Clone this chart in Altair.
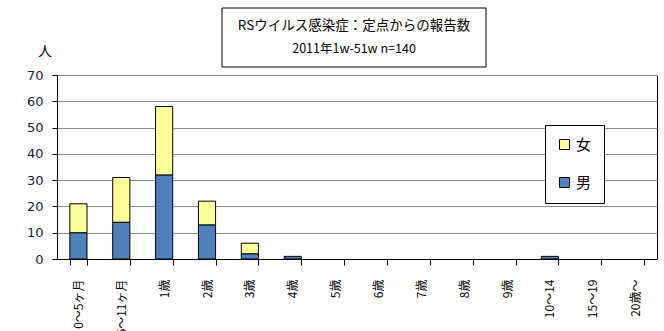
import altair as alt
import pandas as pd

categories = ["0～5ヶ月", "6～11ヶ月", "1歳", "2歳", "3歳", "4歳", "5歳", "6歳",
              "7歳", "8歳", "9歳", "10～14", "15～19", "20歳～"]
male = [10, 14, 32, 13, 2, 1, 0, 0, 0, 0, 0, 1, 0, 0]
female = [11, 17, 26, 9, 4, 0, 0, 0, 0, 0, 0, 0, 0, 0]
y_ticks = [0, 10, 20, 30, 40, 50, 60, 70]
title1 = "RSウイルス感染症：定点からの報告数"
title2 = "2011年1w-51w n=140"
unit = "人"

rows = []
for c, m, f in zip(categories, male, female):
    rows.append({"cat": c, "sex": "男", "n": m, "ord": 0})
    rows.append({"cat": c, "sex": "女", "n": f, "ord": 1})
df = pd.DataFrame(rows)
df = df[df["n"] > 0]

FONT = "Noto Sans CJK JP"

bars = alt.Chart(df).mark_bar(stroke="black", strokeWidth=1).encode(
    x=alt.X("cat:N", title=None,
            scale=alt.Scale(domain=categories, paddingInner=0.6, paddingOuter=0.3),
            axis=alt.Axis(labelAngle=270, labelAlign="right", labelBaseline="middle",
                          tickBand="extent", tickSize=6, tickColor="black", tickWidth=1,
                          domainColor="black", labelPadding=14, labelFontSize=12,
                          labelColor="black", labelFont=FONT, grid=False)),
    y=alt.Y("n:Q", stack="zero", title=None,
            scale=alt.Scale(domain=[0, 70]),
            axis=alt.Axis(values=y_ticks, tickSize=5, tickColor="black",
                          domainColor="black", labelPadding=9, labelFontSize=13,
                          labelColor="#1a1a3a", labelFont="DejaVu Sans", grid=True,
                          gridColor="#8c8c8c", gridWidth=1)),
    color=alt.Color("sex:N", scale=alt.Scale(domain=["女", "男"], range=["#FFFF99", "#4F81BD"]),
                    legend=alt.Legend(title=None, orient="none", legendX=488, legendY=50,
                                      padding=12, strokeColor="black", fillColor="white",
                                      symbolType="square", symbolSize=100,
                                      symbolStrokeColor="black", symbolStrokeWidth=1,
                                      labelFontSize=15, labelFont=FONT, labelColor="black",
                                      rowPadding=22, symbolOpacity=1)),
    order=alt.Order("ord:Q"),
)

one = pd.DataFrame({"a": [0]})
box = alt.Chart(one).mark_rect(fill="white", stroke="black", strokeWidth=1).encode(
    x=alt.value(165), x2=alt.value(429), y=alt.value(-67), y2=alt.value(-8))
t1 = alt.Chart(one).mark_text(font=FONT, fontSize=13.5, color="black").encode(
    x=alt.value(297), y=alt.value(-49), text=alt.value(title1))
t2 = alt.Chart(one).mark_text(font=FONT, fontSize=12.5, color="black").encode(
    x=alt.value(297), y=alt.value(-26), text=alt.value(title2))
t3 = alt.Chart(one).mark_text(font=FONT, fontSize=14, color="black").encode(
    x=alt.value(-12), y=alt.value(-23), text=alt.value(unit))

chart = alt.layer(bars, box, t1, t2, t3).properties(
    width=600, height=184,
    autosize=alt.AutoSizeParams(type="none"),
    padding={"left": 57, "top": 75, "right": 7, "bottom": 72},
    background="white",
).configure_view(stroke="black", strokeWidth=1)

chart.save("out.html", embed_options={"renderer": "svg", "actions": False})
